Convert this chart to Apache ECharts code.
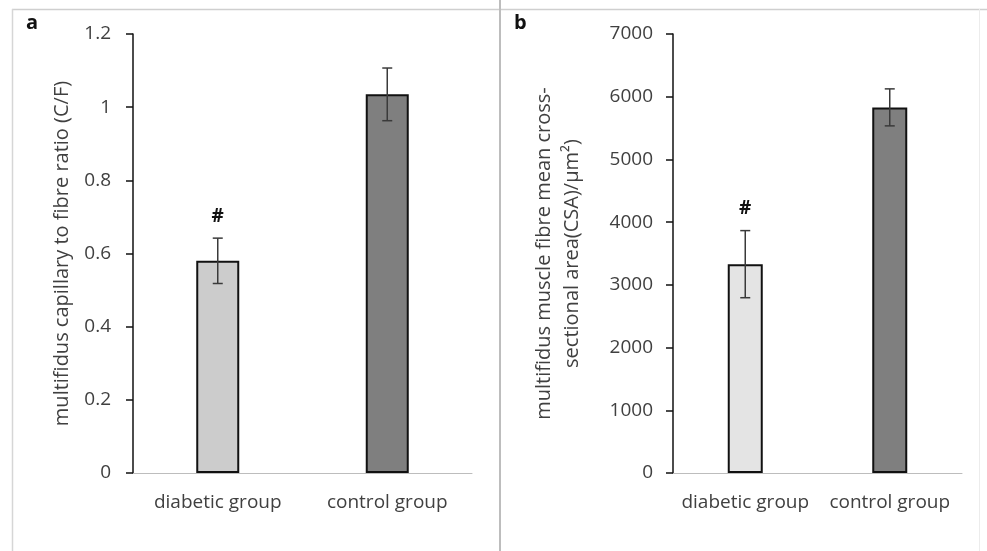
<!DOCTYPE html>
<html>
<head>
<meta charset="utf-8">
<script src="https://cdn.jsdelivr.net/npm/echarts@6/dist/echarts.min.js"></script>
<style>html,body{margin:0;padding:0;background:#fff;}#c{width:987px;height:551px;}</style>
</head>
<body>
<div id="c"></div>
<script>
// ---- data ----
const categories = ['diabetic group', 'control group'];
const cfValues = [0.58, 1.035];
const cfErrors = [0.062, 0.072];
const csaValues = [3330, 5830];
const csaErrors = [535, 295];
const marks = ['#', ''];
const cfTicks = { min: 0, max: 1.2, interval: 0.2 };
const csaTicks = { min: 0, max: 7000, interval: 1000 };

const FONT = '"Open Sans", "Noto Sans", sans-serif';
const TXT = '#404040';

function errorItem(errs) {
  return function (params, api) {
    const i = api.value(0);
    const v = api.value(1);
    const e = api.value(2);
    const top = api.coord([i, v + e]);
    const bot = api.coord([i, v - e]);
    const hw = 5;
    const style = { stroke: '#3a3a3a', lineWidth: 1.5 };
    const children = [
      { type: 'line', shape: { x1: top[0], y1: top[1], x2: bot[0], y2: bot[1] }, style },
      { type: 'line', shape: { x1: top[0] - hw, y1: top[1], x2: top[0] + hw, y2: top[1] }, style },
      { type: 'line', shape: { x1: bot[0] - hw, y1: bot[1], x2: bot[0] + hw, y2: bot[1] }, style }
    ];
    const m = marks[params.dataIndex];
    if (m) {
      children.push({ type: 'text', style: { text: m, x: top[0], y: top[1] - 22, align: 'center', verticalAlign: 'middle', fill: '#111', font: 'bold 19px ' + FONT } });
    }
    return { type: 'group', children };
  };
}

function yAxis(grid, t, name, nameGap, margin) {
  return {
    type: 'value', gridIndex: grid, min: t.min, max: t.max, interval: t.interval,
    name: name, nameLocation: 'middle', nameGap: nameGap,
    nameTextStyle: { color: TXT, fontSize: 20, fontFamily: FONT, lineHeight: 28 },
    axisLine: { show: true, lineStyle: { color: '#111', width: 1.5 } },
    axisTick: { show: true, length: 7, inside: false, lineStyle: { color: '#111', width: 1.5 } },
    axisLabel: { color: TXT, fontSize: 19, fontFamily: FONT, margin: margin, formatter: v => String(+v.toFixed(4)) },
    splitLine: { show: false }
  };
}
function xAxis(grid) {
  return {
    type: 'category', gridIndex: grid, data: categories,
    axisLine: { show: true, lineStyle: { color: '#bdbdbd', width: 1 } },
    axisTick: { show: false },
    axisLabel: { color: TXT, fontSize: 19, fontFamily: FONT, margin: 20, interval: 0 }
  };
}

const chart = echarts.init(document.getElementById('c'), null, { renderer: 'canvas' });
chart.setOption({
  animation: false,
  backgroundColor: '#fff',
  grid: [
    { left: 133, right: 515, top: 34, bottom: 78 },
    { left: 673, right: 25, top: 34, bottom: 78 }
  ],
  xAxis: [xAxis(0), xAxis(1)],
  yAxis: [
    yAxis(0, cfTicks, 'multifidus capillary to fibre ratio (C/F)', 57, 22),
    yAxis(1, csaTicks, 'multifidus muscle fibre mean cross-\nsectional area(CSA)/μm²)', 87, 20)
  ],
  series: [
    {
      type: 'bar', xAxisIndex: 0, yAxisIndex: 0, barWidth: 43,
      data: cfValues.map((v, i) => ({ value: v, itemStyle: { color: i === 0 ? '#cccccc' : '#7f7f7f' } })),
      itemStyle: { borderColor: '#111', borderWidth: 2 }
    },
    {
      type: 'custom', xAxisIndex: 0, yAxisIndex: 0, z: 5,
      renderItem: errorItem(cfErrors),
      data: cfValues.map((v, i) => [i, v, cfErrors[i]])
    },
    {
      type: 'bar', xAxisIndex: 1, yAxisIndex: 1, barWidth: 35,
      data: csaValues.map((v, i) => ({ value: v, itemStyle: { color: i === 0 ? '#e4e4e4' : '#7f7f7f' } })),
      itemStyle: { borderColor: '#111', borderWidth: 2 }
    },
    {
      type: 'custom', xAxisIndex: 1, yAxisIndex: 1, z: 5,
      renderItem: errorItem(csaErrors),
      data: csaValues.map((v, i) => [i, v, csaErrors[i]])
    }
  ],
  graphic: [
    { type: 'line', shape: { x1: 12, y1: 9.5, x2: 987, y2: 9.5 }, style: { stroke: '#cfcfcf', lineWidth: 1.5 } },
    { type: 'line', shape: { x1: 12.5, y1: 9, x2: 12.5, y2: 551 }, style: { stroke: '#d6d6d6', lineWidth: 1.5 } },
    { type: 'line', shape: { x1: 500, y1: 0, x2: 500, y2: 551 }, style: { stroke: '#bdbdbd', lineWidth: 2 } },
    { type: 'line', shape: { x1: 979.5, y1: 9, x2: 979.5, y2: 551 }, style: { stroke: '#ececec', lineWidth: 1 } },
    { type: 'text', left: 26, top: 13, style: { text: 'a', fill: '#111', font: 'bold 20px ' + FONT } },
    { type: 'text', left: 514, top: 13, style: { text: 'b', fill: '#111', font: 'bold 20px ' + FONT } }
  ]
});
</script>
</body>
</html>
